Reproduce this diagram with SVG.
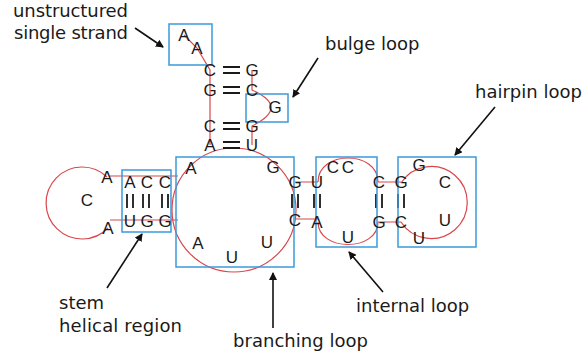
<svg xmlns="http://www.w3.org/2000/svg" width="582" height="358" viewBox="0 0 582 358">
<defs>
<style>
.lbl{font-family:"DejaVu Sans",sans-serif;font-size:18px;fill:#1a1a1a}
.nt{font-family:"Liberation Sans",Arial,sans-serif;font-size:17px;fill:#1a1a1a;text-anchor:middle}
.box{fill:none;stroke:#3a9ad9;stroke-width:1.5}
.bb{fill:none;stroke:#d9464a;stroke-width:1.2}
.bond{stroke:#1a1a1a;stroke-width:1.8}
.arr{stroke:#111;stroke-width:1.6;fill:none;marker-end:url(#ah)}
</style>
<marker id="ah" markerWidth="8" markerHeight="8" refX="7" refY="4" orient="auto" markerUnits="userSpaceOnUse">
<path d="M0,0 L8,4 L0,8 Z" fill="#111"/>
</marker>
</defs>
<rect width="582" height="358" fill="#fff"/>

<g id="backbone">
<path class="bb" d="M184,35 L197,48 L210,70 L210,145 M252,70 L252,90 Q290,107 252,126 L252,145"/>
<circle class="bb" cx="234" cy="210" r="62"/>
<path class="bb" d="M107,177 A36,36 0 1 0 108,228"/>
<path class="bb" d="M110,176 L178,176 M110,220 L178,220"/>
<path class="bb" d="M295,182 L318,182 M295,219 L318,219"/>
<path class="bb" d="M318,182 C318,150 378,150 378,182 M318,222 C318,252 378,252 378,222"/>
<path class="bb" d="M378,182 L401,182 M378,222 L401,222"/>
<path class="bb" d="M401,183 A36,36 0 1 1 401,222"/>
</g>

<g id="bonds">
<path class="bond" d="M223,67 H240 M223,73 H240 M223,87 H240 M223,93 H240 M223,123 H240 M223,129 H240 M223,142 H240 M223,148 H240"/>
<path class="bond" d="M127,194 V208 M133,194 V208 M143,194 V208 M149,194 V208 M162,194 V208 M168,194 V208"/>
<path class="bond" d="M292,194 V208 M298,194 V208 M314,194 V208 M320,194 V208 M376,194 V208 M382,194 V208 M398,194 V208 M404,194 V208"/>
</g>

<g id="boxes">
<rect id="box-unstructured" class="box" x="169" y="24" width="43" height="41"/>
<rect id="box-bulge" class="box" x="246" y="94" width="42" height="28"/>
<rect id="box-stem" class="box" x="122" y="170" width="49" height="62"/>
<rect id="box-branching" class="box" x="176" y="157" width="118" height="110"/>
<rect id="box-internal" class="box" x="316" y="157" width="61" height="90"/>
<rect id="box-hairpin" class="box" x="398" y="157" width="78" height="90"/>
</g>

<g id="nucleotides">
<text class="nt" x="184" y="41">A</text>
<text class="nt" x="197" y="54">A</text>
<text class="nt" x="210" y="76">C</text><text class="nt" x="252" y="76">G</text>
<text class="nt" x="210" y="96">G</text><text class="nt" x="252" y="96">C</text>
<text class="nt" x="275" y="113">G</text>
<text class="nt" x="210" y="132">C</text><text class="nt" x="252" y="132">G</text>
<text class="nt" x="210" y="151">A</text><text class="nt" x="252" y="151">U</text>
<text class="nt" x="107" y="183">A</text>
<text class="nt" x="87" y="206">C</text>
<text class="nt" x="108" y="234">A</text>
<text class="nt" x="130" y="188">A</text><text class="nt" x="147" y="188">C</text><text class="nt" x="165" y="188">C</text>
<text class="nt" x="130" y="227">U</text><text class="nt" x="147" y="227">G</text><text class="nt" x="165" y="227">G</text>
<text class="nt" x="191" y="174">A</text>
<text class="nt" x="273" y="173">G</text>
<text class="nt" x="198" y="249">A</text>
<text class="nt" x="232" y="263">U</text>
<text class="nt" x="267" y="248">U</text>
<text class="nt" x="295" y="188">G</text><text class="nt" x="317" y="188">U</text>
<text class="nt" x="295" y="226">C</text><text class="nt" x="317" y="228">A</text>
<text class="nt" x="333" y="173">C</text><text class="nt" x="348" y="173">C</text>
<text class="nt" x="348" y="243">U</text>
<text class="nt" x="379" y="188">C</text><text class="nt" x="401" y="188">G</text>
<text class="nt" x="379" y="228">G</text><text class="nt" x="401" y="228">C</text>
<text class="nt" x="419" y="171">G</text>
<text class="nt" x="445" y="188">C</text>
<text class="nt" x="445" y="226">U</text>
<text class="nt" x="419" y="244">U</text>
</g>

<g id="connectors">
<line class="arr" x1="135" y1="28" x2="163" y2="47"/>
<line class="arr" x1="318" y1="58" x2="293" y2="97"/>
<line class="arr" x1="495" y1="107" x2="455" y2="155"/>
<line class="arr" x1="107" y1="288" x2="142" y2="234"/>
<line class="arr" x1="273" y1="328" x2="273" y2="273"/>
<line class="arr" x1="383" y1="292" x2="349" y2="252"/>
</g>

<g id="label-unstructured"><text class="lbl" x="13" y="17" textLength="115">unstructured</text><text class="lbl" x="14" y="39" textLength="114">single strand</text></g>
<g id="label-bulge"><text class="lbl" x="325" y="50">bulge loop</text></g>
<g id="label-hairpin"><text class="lbl" x="475" y="98">hairpin loop</text></g>
<g id="label-stem"><text class="lbl" x="59" y="309">stem</text><text class="lbl" x="59" y="332" textLength="123">helical region</text></g>
<g id="label-branching"><text class="lbl" x="233" y="347" textLength="135">branching loop</text></g>
<g id="label-internal"><text class="lbl" x="356" y="312">internal loop</text></g>
</svg>
